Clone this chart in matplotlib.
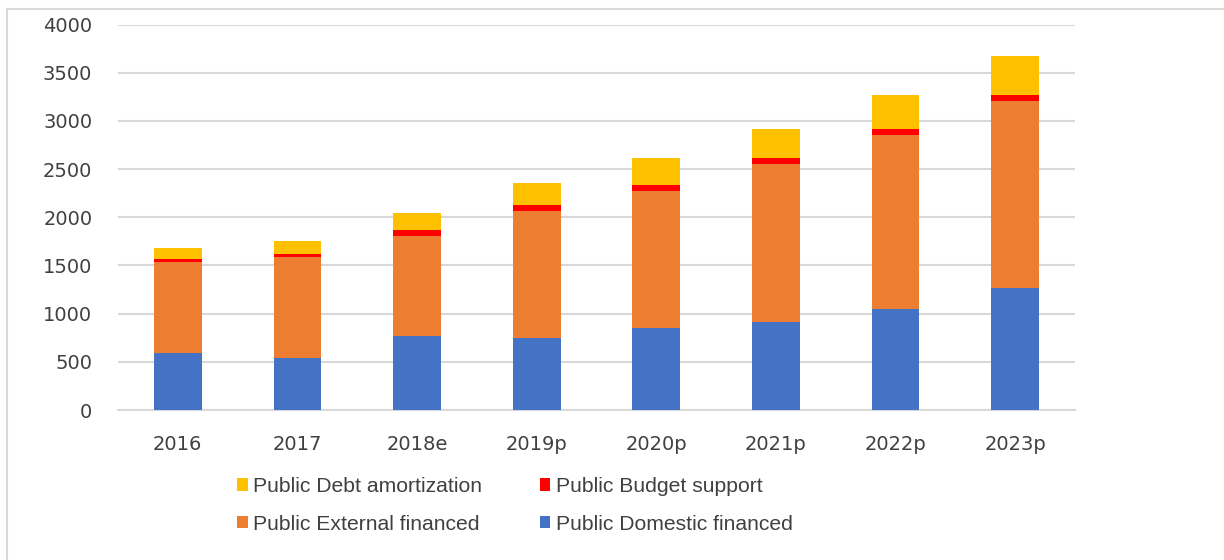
import matplotlib.pyplot as plt
import numpy as np
from matplotlib.lines import Line2D

years = ["2016", "2017", "2018e", "2019p", "2020p", "2021p", "2022p", "2023p"]
domestic = [590, 544, 773, 752, 846, 918, 1047, 1262]
external = [949, 1047, 1029, 1318, 1429, 1630, 1810, 1948]
budget = [31, 28, 63, 62, 58, 62, 58, 59]
amortization = [115, 139, 184, 226, 277, 305, 354, 405]

c_dom = "#4472C4"
c_ext = "#ED7D31"
c_bud = "#FF0000"
c_amo = "#FFC000"

fig = plt.figure(figsize=(12.24, 5.6), dpi=100)
ax = fig.add_axes([118 / 1224, 150 / 560, 957 / 1224, 385.5 / 560])

x = np.arange(len(years))
w = 0.40
dom = np.array(domestic)
ext = np.array(external)
bud = np.array(budget)
amo = np.array(amortization)

b_dom = ax.bar(x, dom, w, color=c_dom, zorder=3)
b_ext = ax.bar(x, ext, w, bottom=dom, color=c_ext, zorder=3)
b_bud = ax.bar(x, bud, w, bottom=dom + ext, color=c_bud, zorder=3)
b_amo = ax.bar(x, amo, w, bottom=dom + ext + bud, color=c_amo, zorder=3)

ax.set_xlim(-0.5, len(years) - 0.5)
ax.set_ylim(0, 4000)
ax.set_yticks(range(0, 4001, 500))
ax.set_xticks(x)
ax.set_xticklabels(years)
ax.yaxis.grid(True, color="#D9D9D9", linewidth=1.5, zorder=0)
ax.set_axisbelow(True)
for s in ["top", "right", "left"]:
    ax.spines[s].set_visible(False)
ax.spines["bottom"].set_color("#D9D9D9")
ax.spines["bottom"].set_linewidth(1.5)
ax.tick_params(axis="both", length=0, labelsize=14, labelcolor="#404040")
ax.tick_params(axis="y", pad=18.5)
ax.tick_params(axis="x", pad=18)

fig.legend(
    [b_amo, b_ext, b_bud, b_dom],
    ["Public Debt amortization", "Public External financed",
     "Public Budget support", "Public Domestic financed"],
    ncol=2, loc="upper left", bbox_to_anchor=(237 / 1224, 1 - 477 / 560),
    frameon=False, prop={"family": "Liberation Sans", "size": 15.2},
    handlelength=0.5, handleheight=0.5, handletextpad=0.25, borderpad=0,
    borderaxespad=0, columnspacing=2.75, labelspacing=0.88, labelcolor="#404040",
)

# light chart border (top and left)
fig.add_artist(Line2D([7 / 1224, 1], [1 - 9 / 560, 1 - 9 / 560],
                      transform=fig.transFigure, color="#D9D9D9", lw=1.5))
fig.add_artist(Line2D([7 / 1224, 7 / 1224], [0, 1 - 9 / 560],
                      transform=fig.transFigure, color="#D9D9D9", lw=1.5))

fig.savefig("out.png", dpi=100)
